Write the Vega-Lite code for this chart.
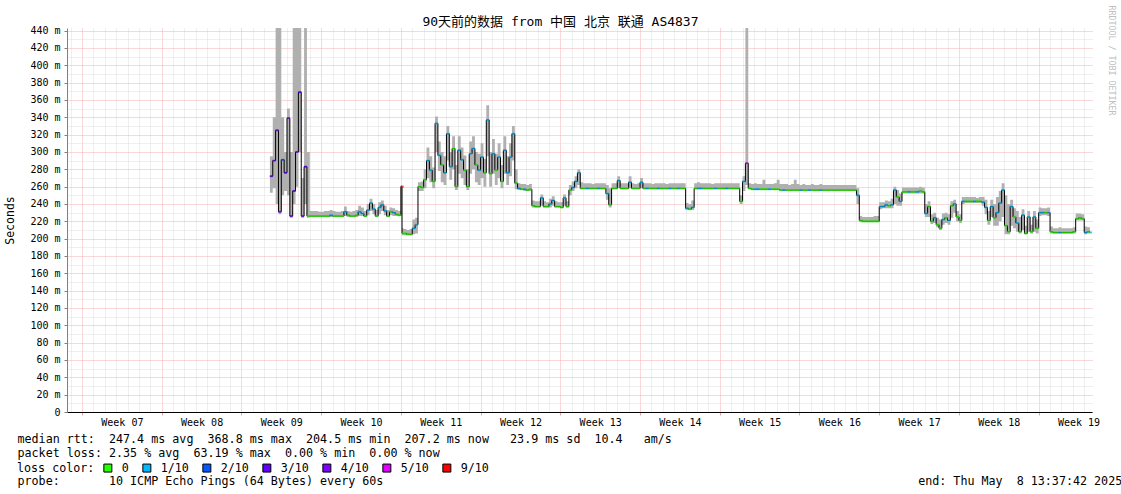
{
  "$schema": "https://vega.github.io/schema/vega-lite/v6.json",
  "autosize": "none",
  "width": 1025,
  "height": 384,
  "padding": {"left": 67, "top": 28, "right": 29, "bottom": 82},
  "background": "#ffffff",
  "config": {"view": {"stroke": null}},
  "title": {
    "text": "90天前的数据 from 中国 北京 联通 AS4837",
    "font": "DejaVu Sans Mono, Noto Sans CJK SC",
    "fontSize": 13,
    "fontWeight": "normal",
    "color": "#000000",
    "anchor": "middle",
    "baseline": "bottom",
    "dx": -19,
    "dy": 39,
    "offset": 2
  },
  "data": {
    "values": [
      {"d":16.5,"m":272,"lo":253,"hi":295,"loss":"3/10"},
      {"d":16.75,"m":290,"lo":258,"hi":340,"loss":"4/10"},
      {"d":17.0,"m":325,"lo":240,"hi":460,"loss":"4/10"},
      {"d":17.25,"m":231,"lo":228,"hi":460,"loss":"4/10"},
      {"d":17.5,"m":291,"lo":250,"hi":340,"loss":"2/10"},
      {"d":17.75,"m":276,"lo":255,"hi":300,"loss":"3/10"},
      {"d":18.0,"m":339,"lo":250,"hi":350,"loss":"4/10"},
      {"d":18.25,"m":226,"lo":224,"hi":300,"loss":"4/10"},
      {"d":18.5,"m":255,"lo":240,"hi":460,"loss":"3/10"},
      {"d":18.75,"m":300,"lo":260,"hi":460,"loss":"4/10"},
      {"d":19.0,"m":369,"lo":300,"hi":460,"loss":"3/10"},
      {"d":19.25,"m":226,"lo":224,"hi":270,"loss":"4/10"},
      {"d":19.5,"m":283,"lo":240,"hi":460,"loss":"3/10"},
      {"d":19.75,"m":226,"lo":224,"hi":300,"loss":"0"},
      {"d":20.0,"m":226,"lo":225,"hi":232,"loss":"0"},
      {"d":20.25,"m":226,"lo":225,"hi":232,"loss":"0"},
      {"d":20.5,"m":226,"lo":225,"hi":232,"loss":"0"},
      {"d":20.75,"m":226,"lo":225,"hi":231,"loss":"0"},
      {"d":21.0,"m":226,"lo":225,"hi":231,"loss":"0"},
      {"d":21.25,"m":226,"lo":225,"hi":232,"loss":"0"},
      {"d":21.5,"m":226,"lo":225,"hi":232,"loss":"0"},
      {"d":21.75,"m":227,"lo":225,"hi":233,"loss":"1/10"},
      {"d":22.0,"m":226,"lo":225,"hi":232,"loss":"0"},
      {"d":22.25,"m":226,"lo":225,"hi":231,"loss":"0"},
      {"d":22.5,"m":226,"lo":225,"hi":231,"loss":"0"},
      {"d":22.75,"m":226,"lo":225,"hi":232,"loss":"0"},
      {"d":23.0,"m":231,"lo":226,"hi":237,"loss":"1/10"},
      {"d":23.25,"m":227,"lo":225,"hi":232,"loss":"0"},
      {"d":23.5,"m":226,"lo":225,"hi":231,"loss":"0"},
      {"d":23.75,"m":226,"lo":225,"hi":232,"loss":"0"},
      {"d":24.0,"m":227,"lo":225,"hi":233,"loss":"0"},
      {"d":24.25,"m":231,"lo":226,"hi":238,"loss":"1/10"},
      {"d":24.5,"m":229,"lo":226,"hi":236,"loss":"1/10"},
      {"d":24.75,"m":226,"lo":225,"hi":232,"loss":"0"},
      {"d":25.0,"m":233,"lo":227,"hi":240,"loss":"1/10"},
      {"d":25.25,"m":241,"lo":232,"hi":246,"loss":"1/10"},
      {"d":25.5,"m":234,"lo":228,"hi":240,"loss":"1/10"},
      {"d":25.75,"m":226,"lo":225,"hi":233,"loss":"0"},
      {"d":26.0,"m":236,"lo":228,"hi":242,"loss":"1/10"},
      {"d":26.25,"m":239,"lo":232,"hi":244,"loss":"1/10"},
      {"d":26.5,"m":232,"lo":227,"hi":238,"loss":"1/10"},
      {"d":26.75,"m":226,"lo":225,"hi":233,"loss":"0"},
      {"d":27.0,"m":231,"lo":227,"hi":236,"loss":"0"},
      {"d":27.25,"m":230,"lo":226,"hi":235,"loss":"1/10"},
      {"d":27.5,"m":228,"lo":226,"hi":233,"loss":"0"},
      {"d":27.75,"m":227,"lo":226,"hi":232,"loss":"0"},
      {"d":28.0,"m":260,"lo":226,"hi":262,"loss":"9/10"},
      {"d":28.1,"m":206,"lo":204,"hi":212,"loss":"0"},
      {"d":28.25,"m":206,"lo":204,"hi":211,"loss":"0"},
      {"d":28.5,"m":205,"lo":204,"hi":210,"loss":"0"},
      {"d":28.75,"m":205,"lo":204,"hi":211,"loss":"0"},
      {"d":29.0,"m":212,"lo":205,"hi":222,"loss":"1/10"},
      {"d":29.25,"m":216,"lo":206,"hi":224,"loss":"1/10"},
      {"d":29.5,"m":260,"lo":255,"hi":265,"loss":"0"},
      {"d":29.75,"m":259,"lo":255,"hi":266,"loss":"0"},
      {"d":30.0,"m":268,"lo":258,"hi":280,"loss":"0"},
      {"d":30.25,"m":290,"lo":270,"hi":305,"loss":"1/10"},
      {"d":30.5,"m":279,"lo":265,"hi":295,"loss":"1/10"},
      {"d":30.75,"m":266,"lo":258,"hi":282,"loss":"0"},
      {"d":31.0,"m":333,"lo":300,"hi":341,"loss":"1/10"},
      {"d":31.25,"m":296,"lo":278,"hi":312,"loss":"1/10"},
      {"d":31.5,"m":285,"lo":265,"hi":300,"loss":"0"},
      {"d":31.75,"m":276,"lo":262,"hi":295,"loss":"1/10"},
      {"d":32.0,"m":321,"lo":290,"hi":330,"loss":"1/10"},
      {"d":32.25,"m":283,"lo":268,"hi":300,"loss":"1/10"},
      {"d":32.5,"m":304,"lo":280,"hi":318,"loss":"0"},
      {"d":32.75,"m":260,"lo":256,"hi":285,"loss":"0"},
      {"d":33.0,"m":302,"lo":275,"hi":318,"loss":"1/10"},
      {"d":33.25,"m":291,"lo":270,"hi":305,"loss":"1/10"},
      {"d":33.5,"m":279,"lo":262,"hi":296,"loss":"0"},
      {"d":33.75,"m":260,"lo":256,"hi":280,"loss":"0"},
      {"d":34.0,"m":298,"lo":275,"hi":312,"loss":"1/10"},
      {"d":34.25,"m":304,"lo":280,"hi":318,"loss":"1/10"},
      {"d":34.5,"m":285,"lo":265,"hi":300,"loss":"0"},
      {"d":34.75,"m":279,"lo":262,"hi":298,"loss":"1/10"},
      {"d":35.0,"m":294,"lo":270,"hi":310,"loss":"1/10"},
      {"d":35.25,"m":276,"lo":260,"hi":292,"loss":"0"},
      {"d":35.5,"m":337,"lo":295,"hi":354,"loss":"1/10"},
      {"d":35.75,"m":275,"lo":260,"hi":300,"loss":"0"},
      {"d":36.0,"m":298,"lo":275,"hi":315,"loss":"1/10"},
      {"d":36.25,"m":279,"lo":262,"hi":298,"loss":"0"},
      {"d":36.5,"m":294,"lo":270,"hi":310,"loss":"1/10"},
      {"d":36.75,"m":266,"lo":258,"hi":285,"loss":"0"},
      {"d":37.0,"m":302,"lo":275,"hi":318,"loss":"1/10"},
      {"d":37.25,"m":276,"lo":262,"hi":295,"loss":"1/10"},
      {"d":37.5,"m":294,"lo":272,"hi":310,"loss":"1/10"},
      {"d":37.75,"m":321,"lo":290,"hi":330,"loss":"1/10"},
      {"d":38.0,"m":264,"lo":257,"hi":280,"loss":"0"},
      {"d":38.25,"m":258,"lo":256,"hi":264,"loss":"1/10"},
      {"d":38.5,"m":257,"lo":256,"hi":263,"loss":"0"},
      {"d":38.75,"m":257,"lo":255,"hi":263,"loss":"1/10"},
      {"d":39.0,"m":256,"lo":255,"hi":262,"loss":"0"},
      {"d":39.25,"m":257,"lo":255,"hi":263,"loss":"0"},
      {"d":39.5,"m":238,"lo":236,"hi":244,"loss":"0"},
      {"d":39.75,"m":237,"lo":236,"hi":243,"loss":"0"},
      {"d":40.0,"m":237,"lo":236,"hi":243,"loss":"0"},
      {"d":40.25,"m":247,"lo":238,"hi":251,"loss":"1/10"},
      {"d":40.5,"m":237,"lo":236,"hi":243,"loss":"0"},
      {"d":40.75,"m":237,"lo":236,"hi":242,"loss":"0"},
      {"d":41.0,"m":240,"lo":236,"hi":246,"loss":"1/10"},
      {"d":41.25,"m":244,"lo":238,"hi":249,"loss":"1/10"},
      {"d":41.5,"m":237,"lo":236,"hi":243,"loss":"0"},
      {"d":41.75,"m":237,"lo":236,"hi":242,"loss":"0"},
      {"d":42.0,"m":236,"lo":235,"hi":242,"loss":"0"},
      {"d":42.25,"m":247,"lo":238,"hi":251,"loss":"1/10"},
      {"d":42.5,"m":237,"lo":236,"hi":243,"loss":"0"},
      {"d":42.75,"m":256,"lo":250,"hi":262,"loss":"0"},
      {"d":43.0,"m":259,"lo":255,"hi":266,"loss":"1/10"},
      {"d":43.25,"m":266,"lo":258,"hi":272,"loss":"1/10"},
      {"d":43.5,"m":276,"lo":262,"hi":280,"loss":"1/10"},
      {"d":43.75,"m":258,"lo":257,"hi":265,"loss":"0"},
      {"d":44.0,"m":258,"lo":257,"hi":264,"loss":"0"},
      {"d":44.25,"m":258,"lo":257,"hi":264,"loss":"1/10"},
      {"d":44.5,"m":258,"lo":257,"hi":264,"loss":"0"},
      {"d":44.75,"m":258,"lo":257,"hi":263,"loss":"0"},
      {"d":45.0,"m":258,"lo":257,"hi":264,"loss":"0"},
      {"d":45.25,"m":258,"lo":257,"hi":264,"loss":"1/10"},
      {"d":45.5,"m":258,"lo":257,"hi":264,"loss":"0"},
      {"d":45.75,"m":258,"lo":257,"hi":264,"loss":"0"},
      {"d":46.0,"m":252,"lo":245,"hi":262,"loss":"1/10"},
      {"d":46.25,"m":239,"lo":236,"hi":258,"loss":"0"},
      {"d":46.5,"m":258,"lo":257,"hi":264,"loss":"0"},
      {"d":46.75,"m":258,"lo":257,"hi":264,"loss":"0"},
      {"d":47.0,"m":267,"lo":258,"hi":272,"loss":"1/10"},
      {"d":47.25,"m":258,"lo":257,"hi":264,"loss":"0"},
      {"d":47.5,"m":258,"lo":257,"hi":264,"loss":"0"},
      {"d":47.75,"m":258,"lo":257,"hi":264,"loss":"0"},
      {"d":48.0,"m":265,"lo":258,"hi":272,"loss":"1/10"},
      {"d":48.25,"m":258,"lo":257,"hi":264,"loss":"0"},
      {"d":48.5,"m":258,"lo":257,"hi":263,"loss":"0"},
      {"d":48.75,"m":258,"lo":257,"hi":264,"loss":"0"},
      {"d":49.0,"m":265,"lo":258,"hi":270,"loss":"1/10"},
      {"d":49.25,"m":258,"lo":257,"hi":264,"loss":"0"},
      {"d":49.5,"m":258,"lo":257,"hi":264,"loss":"1/10"},
      {"d":49.75,"m":258,"lo":257,"hi":264,"loss":"0"},
      {"d":50.0,"m":258,"lo":257,"hi":263,"loss":"0"},
      {"d":50.25,"m":258,"lo":257,"hi":264,"loss":"0"},
      {"d":50.5,"m":258,"lo":257,"hi":264,"loss":"1/10"},
      {"d":50.75,"m":258,"lo":257,"hi":264,"loss":"0"},
      {"d":51.0,"m":258,"lo":257,"hi":264,"loss":"0"},
      {"d":51.25,"m":258,"lo":257,"hi":263,"loss":"0"},
      {"d":51.5,"m":258,"lo":257,"hi":264,"loss":"1/10"},
      {"d":51.75,"m":258,"lo":257,"hi":264,"loss":"0"},
      {"d":52.0,"m":258,"lo":257,"hi":264,"loss":"0"},
      {"d":52.25,"m":258,"lo":257,"hi":264,"loss":"1/10"},
      {"d":52.5,"m":258,"lo":257,"hi":264,"loss":"0"},
      {"d":52.75,"m":258,"lo":257,"hi":264,"loss":"0"},
      {"d":53.0,"m":235,"lo":233,"hi":241,"loss":"1/10"},
      {"d":53.25,"m":234,"lo":233,"hi":240,"loss":"0"},
      {"d":53.5,"m":236,"lo":233,"hi":244,"loss":"1/10"},
      {"d":53.75,"m":258,"lo":257,"hi":264,"loss":"0"},
      {"d":54.0,"m":258,"lo":257,"hi":265,"loss":"1/10"},
      {"d":54.25,"m":258,"lo":257,"hi":264,"loss":"1/10"},
      {"d":54.5,"m":258,"lo":257,"hi":264,"loss":"0"},
      {"d":54.75,"m":258,"lo":257,"hi":264,"loss":"0"},
      {"d":55.0,"m":258,"lo":257,"hi":264,"loss":"0"},
      {"d":55.25,"m":258,"lo":257,"hi":263,"loss":"0"},
      {"d":55.5,"m":258,"lo":257,"hi":264,"loss":"1/10"},
      {"d":55.75,"m":258,"lo":257,"hi":264,"loss":"0"},
      {"d":56.0,"m":258,"lo":257,"hi":264,"loss":"0"},
      {"d":56.25,"m":258,"lo":257,"hi":264,"loss":"0"},
      {"d":56.5,"m":258,"lo":257,"hi":264,"loss":"1/10"},
      {"d":56.75,"m":258,"lo":257,"hi":264,"loss":"0"},
      {"d":57.0,"m":258,"lo":257,"hi":264,"loss":"0"},
      {"d":57.25,"m":258,"lo":257,"hi":264,"loss":"0"},
      {"d":57.5,"m":258,"lo":257,"hi":264,"loss":"0"},
      {"d":57.75,"m":243,"lo":240,"hi":250,"loss":"0"},
      {"d":58.0,"m":266,"lo":255,"hi":272,"loss":"1/10"},
      {"d":58.25,"m":287,"lo":262,"hi":460,"loss":"5/10"},
      {"d":58.5,"m":258,"lo":257,"hi":264,"loss":"0"},
      {"d":58.75,"m":257,"lo":256,"hi":263,"loss":"0"},
      {"d":59.0,"m":257,"lo":256,"hi":264,"loss":"1/10"},
      {"d":59.25,"m":257,"lo":256,"hi":263,"loss":"1/10"},
      {"d":59.5,"m":257,"lo":256,"hi":263,"loss":"0"},
      {"d":59.75,"m":257,"lo":256,"hi":268,"loss":"0"},
      {"d":60.0,"m":257,"lo":256,"hi":263,"loss":"0"},
      {"d":60.25,"m":257,"lo":256,"hi":263,"loss":"1/10"},
      {"d":60.5,"m":257,"lo":256,"hi":263,"loss":"0"},
      {"d":60.75,"m":257,"lo":256,"hi":264,"loss":"0"},
      {"d":61.0,"m":257,"lo":256,"hi":268,"loss":"0"},
      {"d":61.25,"m":256,"lo":255,"hi":263,"loss":"0"},
      {"d":61.5,"m":256,"lo":255,"hi":263,"loss":"1/10"},
      {"d":61.75,"m":256,"lo":255,"hi":263,"loss":"0"},
      {"d":62.0,"m":256,"lo":255,"hi":262,"loss":"0"},
      {"d":62.25,"m":256,"lo":255,"hi":263,"loss":"0"},
      {"d":62.5,"m":256,"lo":255,"hi":268,"loss":"0"},
      {"d":62.75,"m":256,"lo":255,"hi":263,"loss":"0"},
      {"d":63.0,"m":256,"lo":255,"hi":262,"loss":"1/10"},
      {"d":63.25,"m":256,"lo":255,"hi":263,"loss":"0"},
      {"d":63.5,"m":256,"lo":255,"hi":262,"loss":"0"},
      {"d":63.75,"m":256,"lo":255,"hi":262,"loss":"1/10"},
      {"d":64.0,"m":256,"lo":255,"hi":263,"loss":"0"},
      {"d":64.25,"m":256,"lo":255,"hi":262,"loss":"0"},
      {"d":64.5,"m":256,"lo":255,"hi":262,"loss":"0"},
      {"d":64.75,"m":256,"lo":255,"hi":263,"loss":"1/10"},
      {"d":65.0,"m":256,"lo":255,"hi":262,"loss":"0"},
      {"d":65.25,"m":256,"lo":255,"hi":262,"loss":"0"},
      {"d":65.5,"m":256,"lo":255,"hi":262,"loss":"0"},
      {"d":65.75,"m":256,"lo":255,"hi":262,"loss":"0"},
      {"d":66.0,"m":256,"lo":255,"hi":262,"loss":"0"},
      {"d":66.25,"m":256,"lo":255,"hi":262,"loss":"0"},
      {"d":66.5,"m":256,"lo":255,"hi":262,"loss":"0"},
      {"d":66.75,"m":256,"lo":255,"hi":262,"loss":"0"},
      {"d":67.0,"m":256,"lo":255,"hi":262,"loss":"0"},
      {"d":67.25,"m":256,"lo":255,"hi":262,"loss":"0"},
      {"d":67.5,"m":256,"lo":255,"hi":262,"loss":"0"},
      {"d":67.75,"m":256,"lo":255,"hi":262,"loss":"0"},
      {"d":68.0,"m":250,"lo":240,"hi":258,"loss":"1/10"},
      {"d":68.25,"m":221,"lo":219,"hi":226,"loss":"0"},
      {"d":68.5,"m":220,"lo":219,"hi":225,"loss":"0"},
      {"d":68.75,"m":220,"lo":219,"hi":225,"loss":"0"},
      {"d":69.0,"m":220,"lo":219,"hi":225,"loss":"0"},
      {"d":69.25,"m":220,"lo":219,"hi":225,"loss":"0"},
      {"d":69.5,"m":220,"lo":219,"hi":226,"loss":"0"},
      {"d":69.75,"m":220,"lo":219,"hi":226,"loss":"0"},
      {"d":70.0,"m":237,"lo":234,"hi":242,"loss":"1/10"},
      {"d":70.25,"m":237,"lo":235,"hi":242,"loss":"1/10"},
      {"d":70.5,"m":239,"lo":235,"hi":244,"loss":"1/10"},
      {"d":70.75,"m":238,"lo":235,"hi":243,"loss":"0"},
      {"d":71.0,"m":239,"lo":235,"hi":246,"loss":"1/10"},
      {"d":71.25,"m":256,"lo":240,"hi":260,"loss":"1/10"},
      {"d":71.5,"m":248,"lo":238,"hi":256,"loss":"0"},
      {"d":71.75,"m":243,"lo":238,"hi":252,"loss":"1/10"},
      {"d":72.0,"m":254,"lo":252,"hi":259,"loss":"0"},
      {"d":72.25,"m":254,"lo":252,"hi":259,"loss":"0"},
      {"d":72.5,"m":254,"lo":252,"hi":259,"loss":"1/10"},
      {"d":72.75,"m":254,"lo":252,"hi":259,"loss":"0"},
      {"d":73.0,"m":254,"lo":252,"hi":259,"loss":"0"},
      {"d":73.25,"m":254,"lo":252,"hi":259,"loss":"1/10"},
      {"d":73.5,"m":255,"lo":252,"hi":260,"loss":"0"},
      {"d":73.75,"m":254,"lo":252,"hi":259,"loss":"0"},
      {"d":74.0,"m":229,"lo":225,"hi":240,"loss":"1/10"},
      {"d":74.25,"m":237,"lo":225,"hi":243,"loss":"0"},
      {"d":74.5,"m":220,"lo":217,"hi":228,"loss":"0"},
      {"d":74.75,"m":224,"lo":218,"hi":230,"loss":"1/10"},
      {"d":75.0,"m":216,"lo":213,"hi":224,"loss":"0"},
      {"d":75.25,"m":212,"lo":210,"hi":222,"loss":"0"},
      {"d":75.5,"m":222,"lo":216,"hi":229,"loss":"1/10"},
      {"d":75.75,"m":224,"lo":218,"hi":230,"loss":"0"},
      {"d":76.0,"m":221,"lo":216,"hi":228,"loss":"1/10"},
      {"d":76.25,"m":238,"lo":224,"hi":243,"loss":"0"},
      {"d":76.5,"m":240,"lo":230,"hi":245,"loss":"1/10"},
      {"d":76.75,"m":225,"lo":220,"hi":232,"loss":"0"},
      {"d":77.0,"m":221,"lo":218,"hi":228,"loss":"0"},
      {"d":77.25,"m":243,"lo":240,"hi":248,"loss":"1/10"},
      {"d":77.5,"m":243,"lo":241,"hi":248,"loss":"0"},
      {"d":77.75,"m":243,"lo":241,"hi":248,"loss":"0"},
      {"d":78.0,"m":243,"lo":241,"hi":248,"loss":"0"},
      {"d":78.25,"m":243,"lo":241,"hi":248,"loss":"1/10"},
      {"d":78.5,"m":243,"lo":241,"hi":247,"loss":"0"},
      {"d":78.75,"m":243,"lo":241,"hi":248,"loss":"0"},
      {"d":79.0,"m":242,"lo":238,"hi":248,"loss":"1/10"},
      {"d":79.25,"m":236,"lo":228,"hi":245,"loss":"1/10"},
      {"d":79.5,"m":221,"lo":216,"hi":232,"loss":"0"},
      {"d":79.75,"m":237,"lo":225,"hi":245,"loss":"1/10"},
      {"d":80.0,"m":224,"lo":215,"hi":240,"loss":"0"},
      {"d":80.25,"m":230,"lo":215,"hi":248,"loss":"1/10"},
      {"d":80.5,"m":241,"lo":220,"hi":255,"loss":"1/10"},
      {"d":80.75,"m":256,"lo":225,"hi":264,"loss":"1/10"},
      {"d":81.0,"m":215,"lo":205,"hi":250,"loss":"0"},
      {"d":81.25,"m":208,"lo":205,"hi":240,"loss":"0"},
      {"d":81.5,"m":237,"lo":215,"hi":245,"loss":"1/10"},
      {"d":81.75,"m":225,"lo":212,"hi":235,"loss":"0"},
      {"d":82.0,"m":218,"lo":208,"hi":232,"loss":"1/10"},
      {"d":82.25,"m":208,"lo":206,"hi":225,"loss":"0"},
      {"d":82.5,"m":227,"lo":210,"hi":234,"loss":"1/10"},
      {"d":82.75,"m":206,"lo":205,"hi":215,"loss":"0"},
      {"d":83.0,"m":225,"lo":208,"hi":232,"loss":"1/10"},
      {"d":83.25,"m":208,"lo":206,"hi":216,"loss":"0"},
      {"d":83.5,"m":225,"lo":208,"hi":232,"loss":"1/10"},
      {"d":83.75,"m":212,"lo":206,"hi":222,"loss":"0"},
      {"d":84.0,"m":230,"lo":226,"hi":236,"loss":"1/10"},
      {"d":84.25,"m":230,"lo":227,"hi":235,"loss":"1/10"},
      {"d":84.5,"m":230,"lo":227,"hi":235,"loss":"0"},
      {"d":84.75,"m":230,"lo":226,"hi":236,"loss":"1/10"},
      {"d":85.0,"m":208,"lo":206,"hi":214,"loss":"0"},
      {"d":85.25,"m":207,"lo":206,"hi":212,"loss":"0"},
      {"d":85.5,"m":207,"lo":206,"hi":212,"loss":"0"},
      {"d":85.75,"m":207,"lo":206,"hi":213,"loss":"1/10"},
      {"d":86.0,"m":207,"lo":206,"hi":212,"loss":"0"},
      {"d":86.25,"m":207,"lo":206,"hi":212,"loss":"0"},
      {"d":86.5,"m":207,"lo":206,"hi":212,"loss":"0"},
      {"d":86.75,"m":207,"lo":206,"hi":212,"loss":"0"},
      {"d":87.0,"m":208,"lo":206,"hi":213,"loss":"0"},
      {"d":87.25,"m":223,"lo":221,"hi":229,"loss":"0"},
      {"d":87.5,"m":224,"lo":221,"hi":229,"loss":"0"},
      {"d":87.75,"m":223,"lo":221,"hi":228,"loss":"0"},
      {"d":88.0,"m":207,"lo":205,"hi":214,"loss":"1/10"},
      {"d":88.25,"m":208,"lo":206,"hi":213,"loss":"0"},
      {"d":88.5,"m":207,"lo":206,"hi":212,"loss":"1/10"}
    ]
  },
  "encoding": {
    "x": {
      "field": "d",
      "type": "quantitative",
      "scale": {"domain": [-1.317, 88.683], "nice": false, "zero": false},
      "axis": {
        "values": [-1,0,1,2,3,4,5,6,7,8,9,10,11,12,13,14,15,16,17,18,19,20,21,22,23,24,25,26,27,28,29,30,31,32,33,34,35,36,37,38,39,40,41,42,43,44,45,46,47,48,49,50,51,52,53,54,55,56,57,58,59,60,61,62,63,64,65,66,67,68,69,70,71,72,73,74,75,76,77,78,79,80,81,82,83,84,85,86,87,88],
        "grid": true,
        "gridDash": [1, 1],
        "gridWidth": 1,
        "gridColor": {"condition": {"test": "datum.value % 7 === 0", "value": "#f5b0b0"}, "value": "#dedede"},
        "ticks": true,
        "tickSize": 3,
        "tickColor": {"condition": {"test": "datum.value % 7 === 0", "value": "#f0a0a0"}, "value": "transparent"},
        "domainColor": "#000000",
        "domainWidth": 1,
        "labelExpr": "datum.value % 7 === 3 ? 'Week ' + format(7 + (datum.value - 3) / 7, '02d') : ''",
        "labelOffset": 5.7,
        "labelFont": "DejaVu Sans Mono",
        "labelFontSize": 10,
        "labelColor": "#000000",
        "labelPadding": 2,
        "labelOverlap": false,
        "labelFlush": false,
        "labelBound": false,
        "title": [
          "median\u00a0rtt:\u00a0\u00a0247.4\u00a0ms\u00a0avg\u00a0\u00a0368.8\u00a0ms\u00a0max\u00a0\u00a0204.5\u00a0ms\u00a0min\u00a0\u00a0207.2\u00a0ms\u00a0now\u00a0\u00a0\u00a023.9\u00a0ms\u00a0sd\u00a0\u00a010.4\u00a0\u00a0\u00a0am/s",
          "packet\u00a0loss:\u00a02.35\u00a0%\u00a0avg\u00a0\u00a063.19\u00a0%\u00a0max\u00a0\u00a00.00\u00a0%\u00a0min\u00a0\u00a00.00\u00a0%\u00a0now",
          "\u200b",
          "probe:\u00a0\u00a0\u00a0\u00a0\u00a0\u00a0\u00a010\u00a0ICMP\u00a0Echo\u00a0Pings\u00a0(64\u00a0Bytes)\u00a0every\u00a060s\u00a0\u00a0\u00a0\u00a0\u00a0\u00a0\u00a0\u00a0\u00a0\u00a0\u00a0\u00a0\u00a0\u00a0\u00a0\u00a0\u00a0\u00a0\u00a0\u00a0\u00a0\u00a0\u00a0\u00a0\u00a0\u00a0\u00a0\u00a0\u00a0\u00a0\u00a0\u00a0\u00a0\u00a0\u00a0\u00a0\u00a0\u00a0\u00a0\u00a0\u00a0\u00a0\u00a0\u00a0\u00a0\u00a0\u00a0\u00a0\u00a0\u00a0\u00a0\u00a0\u00a0\u00a0\u00a0\u00a0\u00a0\u00a0\u00a0\u00a0\u00a0\u00a0\u00a0\u00a0\u00a0\u00a0\u00a0\u00a0\u00a0\u00a0\u00a0\u00a0\u00a0\u00a0\u00a0\u00a0end:\u00a0Thu\u00a0May\u00a0\u00a08\u00a013:37:42\u00a02025"
        ],
        "titleFont": "DejaVu Sans Mono",
        "titleFontSize": 11.7,
        "titleFontWeight": "normal",
        "titleColor": "#000000",
        "titleAlign": "left",
        "titleAnchor": "start",
        "titleBaseline": "alphabetic",
        "titleLineHeight": 14,
        "titleX": -50,
        "titleY": 30
      }
    }
  },
  "layer": [
    {
      "mark": {"type": "area", "interpolate": "step-after", "color": "#b0b0b0", "clip": true},
      "encoding": {
        "y": {
          "field": "lo",
          "type": "quantitative",
          "scale": {"domain": [0, 443], "nice": false, "zero": true},
          "axis": {
            "values": [0,10,20,30,40,50,60,70,80,90,100,110,120,130,140,150,160,170,180,190,200,210,220,230,240,250,260,270,280,290,300,310,320,330,340,350,360,370,380,390,400,410,420,430,440],
            "grid": true,
            "gridDash": [1, 1],
            "gridWidth": 1,
            "gridColor": {"condition": {"test": "datum.value % 20 === 0", "value": "#f5b0b0"}, "value": "#dedede"},
            "ticks": true,
            "tickSize": 3,
            "tickColor": {"condition": {"test": "datum.value % 20 === 0", "value": "#808080"}, "value": "transparent"},
            "domainColor": "#808080",
            "labelExpr": "datum.value % 20 === 0 ? (datum.value === 0 ? '0' : datum.value + ' m') : ''",
            "labelFont": "DejaVu Sans Mono",
            "labelFontSize": 10,
            "labelColor": "#000000",
            "labelPadding": 4,
            "labelOverlap": false,
            "labelFlush": false,
            "title": "Seconds",
            "titleFont": "DejaVu Sans Mono",
            "titleFontSize": 11.5,
            "titleFontWeight": "normal",
            "titleColor": "#000000",
            "titleAngle": -90,
            "titleX": -57,
            "titleY": 192,
            "titleAlign": "center",
            "titleBaseline": "middle"
          }
        },
        "y2": {"field": "hi"}
      }
    },
    {
      "mark": {"type": "line", "interpolate": "step-after", "color": "#000000", "strokeWidth": 1, "clip": true},
      "encoding": {
        "y": {
          "field": "m",
          "type": "quantitative",
          "axis": {
            "orient": "right",
            "labels": false,
            "ticks": false,
            "domain": false,
            "grid": false,
            "title": "RRDTOOL / TOBI OETIKER",
            "titleFont": "DejaVu Sans Mono",
            "titleFontSize": 8.3,
            "titleFontWeight": "normal",
            "titleColor": "#c0c0c0",
            "titleAngle": 90,
            "titleX": 18,
            "titleY": -23,
            "titleAlign": "left",
            "titleBaseline": "middle"
          }
        }
      }
    },
    {
      "mark": {"type": "tick", "orient": "horizontal", "size": 3, "thickness": 2, "xOffset": 1.4, "clip": true},
      "encoding": {
        "y": {"field": "m", "type": "quantitative", "axis": null},
        "color": {
          "field": "loss",
          "type": "nominal",
          "scale": {
            "domain": ["0", "1/10", "2/10", "3/10", "4/10", "5/10", "9/10"],
            "range": ["#26ff00", "#00b8ff", "#0059ff", "#5e00ff", "#7e00ff", "#dd00ff", "#ff0000"]
          },
          "legend": {
            "title": "loss color:",
            "orient": "none",
            "legendX": -50,
            "legendY": 434,
            "direction": "horizontal",
            "titleOrient": "left",
            "titleFont": "DejaVu Sans Mono",
            "titleFontSize": 11.7,
            "titleFontWeight": "normal",
            "titleColor": "#000000",
            "titlePadding": 7,
            "symbolType": "square",
            "symbolSize": 64,
            "symbolStrokeColor": "#000000",
            "symbolStrokeWidth": 1,
            "symbolOpacity": 1,
            "labelFont": "DejaVu Sans Mono",
            "labelFontSize": 11.7,
            "labelColor": "#000000",
            "labelOffset": 8,
            "columnPadding": 11
          }
        }
      }
    }
  ],
  "resolve": {"axis": {"y": "independent"}}
}
